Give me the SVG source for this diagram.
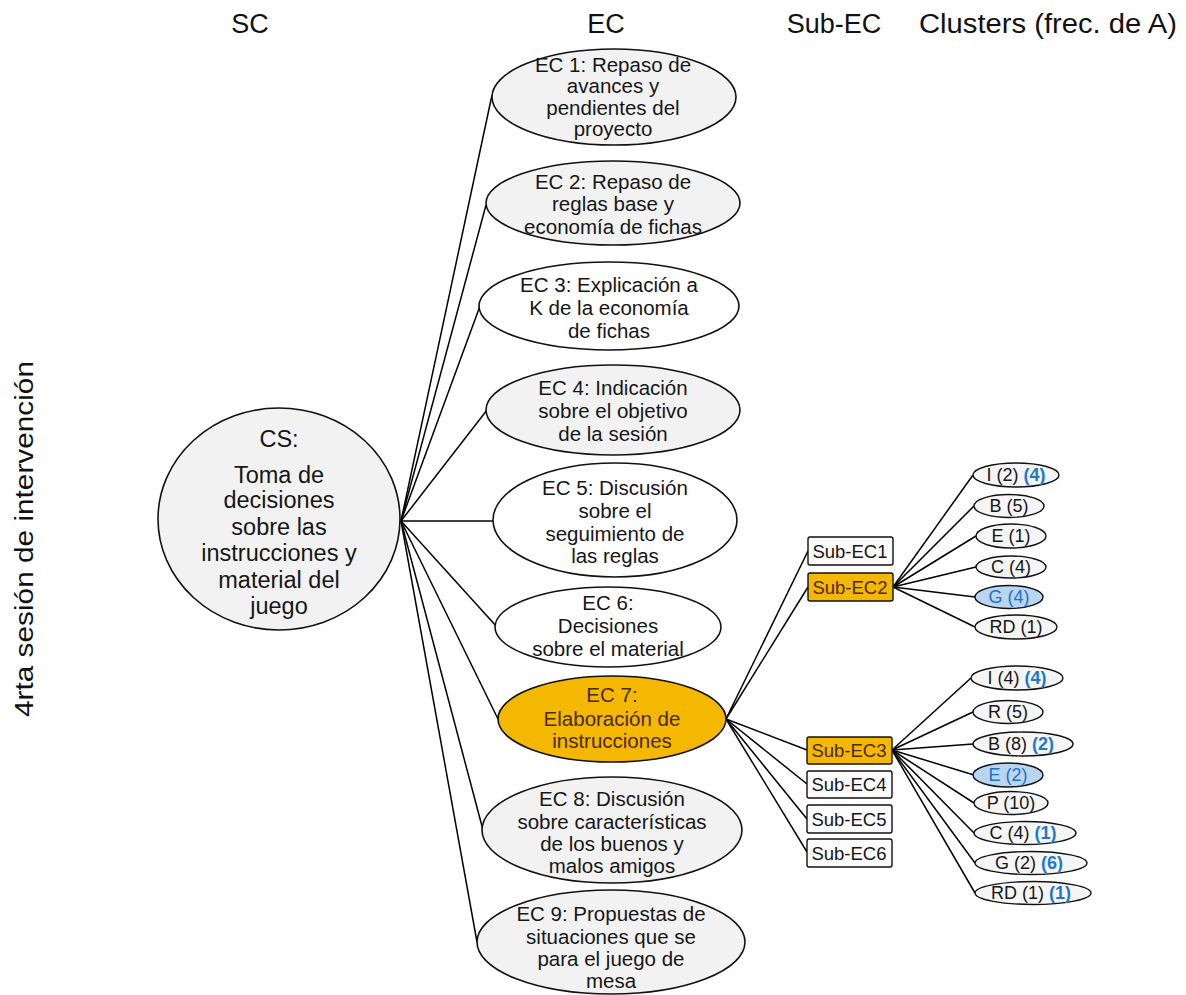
<svg xmlns="http://www.w3.org/2000/svg" width="1186" height="995" viewBox="0 0 1186 995">
  <style>
    text { font-family: "Liberation Sans", Arial, sans-serif; fill: #161616; text-anchor: middle; }
    .hdr { font-size: 27px; fill: #111; }
    .side { font-size: 26px; fill: #111; }
    .cs { font-size: 23.5px; }
    .ec { font-size: 20.5px; }
    .sub { font-size: 18.5px; }
    .cl { font-size: 18px; }
    .blue { fill: #1f78c8; font-weight: bold; }
    .hot { fill: #4a2a00; }
    .shape { stroke: #111; stroke-width: 1.6; }
    .leaf { fill: #f5f5f5; stroke: #111; stroke-width: 1.4; }
    .box { fill: #fbfbfb; stroke: #111; stroke-width: 1.4; }
    .grey { fill: #f2f2f2; }
    .white { fill: #ffffff; }
    .gold { fill: #f4b800; }
    .sky { fill: #b9d5ef; }
    .bluetxt { fill: #1f72c4; }
    #connectors line { stroke: #000; stroke-width: 1.5; }
  </style>

  <!-- column headings -->
  <g id="headings">
    <text class="hdr" x="250" y="33">SC</text>
    <text class="hdr" x="606" y="33">EC</text>
    <text class="hdr" x="834" y="33">Sub-EC</text>
    <text class="hdr" x="1048" y="33" textLength="258" lengthAdjust="spacingAndGlyphs">Clusters (frec. de A)</text>
    <text class="side" transform="translate(33,539) rotate(-90)" x="0" y="0" textLength="356" lengthAdjust="spacingAndGlyphs">4rta sesión de intervención</text>
  </g>

  <!-- connectors -->
  <g id="connectors">
    <!-- CS to EC -->
    <line x1="401" y1="521" x2="492" y2="95"/>
    <line x1="401" y1="521" x2="486" y2="205"/>
    <line x1="401" y1="521" x2="480" y2="306"/>
    <line x1="401" y1="521" x2="487" y2="410"/>
    <line x1="401" y1="521" x2="493" y2="521"/>
    <line x1="401" y1="521" x2="497" y2="627"/>
    <line x1="401" y1="521" x2="498" y2="719"/>
    <line x1="401" y1="521" x2="483" y2="830"/>
    <line x1="401" y1="521" x2="477" y2="942"/>
    <!-- EC 7 to Sub-EC -->
    <line x1="726" y1="719" x2="808" y2="551"/>
    <line x1="726" y1="719" x2="808" y2="587"/>
    <line x1="726" y1="719" x2="807" y2="750"/>
    <line x1="726" y1="719" x2="807" y2="784"/>
    <line x1="726" y1="719" x2="807" y2="819"/>
    <line x1="726" y1="719" x2="807" y2="852"/>
    <!-- Sub-EC2 to clusters -->
    <line x1="893" y1="587" x2="973" y2="475"/>
    <line x1="893" y1="587" x2="974" y2="506"/>
    <line x1="893" y1="587" x2="976" y2="536"/>
    <line x1="893" y1="587" x2="976" y2="567"/>
    <line x1="893" y1="587" x2="975" y2="597"/>
    <line x1="893" y1="587" x2="975" y2="627"/>
    <!-- Sub-EC3 to clusters -->
    <line x1="892" y1="750" x2="971" y2="678"/>
    <line x1="892" y1="750" x2="973" y2="712"/>
    <line x1="892" y1="750" x2="973" y2="744"/>
    <line x1="892" y1="750" x2="974" y2="775"/>
    <line x1="892" y1="750" x2="974" y2="803"/>
    <line x1="892" y1="750" x2="974" y2="833"/>
    <line x1="892" y1="750" x2="975" y2="863"/>
    <line x1="892" y1="750" x2="975" y2="893"/>
  </g>

  <!-- root -->
  <g id="cs">
    <ellipse class="shape grey" cx="279" cy="519" rx="121" ry="111"/>
    <text class="cs" x="279" y="447">CS:</text>
    <text class="cs" x="279" y="483">Toma de</text>
    <text class="cs" x="279" y="508">decisiones</text>
    <text class="cs" x="279" y="535">sobre las</text>
    <text class="cs" x="279" y="561">instrucciones y</text>
    <text class="cs" x="279" y="588">material del</text>
    <text class="cs" x="279" y="614">juego</text>
  </g>

  <!-- episodes -->
  <g id="ec1">
    <ellipse class="shape grey" cx="614" cy="97" rx="122" ry="48"/>
    <text class="ec" x="613" y="72">EC 1: Repaso de</text>
    <text class="ec" x="613" y="93">avances y</text>
    <text class="ec" x="613" y="115">pendientes del</text>
    <text class="ec" x="613" y="136">proyecto</text>
  </g>
  <g id="ec2">
    <ellipse class="shape grey" cx="613" cy="203" rx="127" ry="42"/>
    <text class="ec" x="613" y="189">EC 2: Repaso de</text>
    <text class="ec" x="613" y="211">reglas base y</text>
    <text class="ec" x="613" y="234">economía de fichas</text>
  </g>
  <g id="ec3">
    <ellipse class="shape white" cx="609" cy="306" rx="130" ry="44"/>
    <text class="ec" x="609" y="292">EC 3: Explicación a</text>
    <text class="ec" x="609" y="315">K de la economía</text>
    <text class="ec" x="609" y="338">de fichas</text>
  </g>
  <g id="ec4">
    <ellipse class="shape grey" cx="613" cy="410" rx="127" ry="45"/>
    <text class="ec" x="613" y="395">EC 4: Indicación</text>
    <text class="ec" x="613" y="418">sobre el objetivo</text>
    <text class="ec" x="613" y="441">de la sesión</text>
  </g>
  <g id="ec5">
    <ellipse class="shape white" cx="615" cy="520" rx="122" ry="57"/>
    <text class="ec" x="615" y="495">EC 5: Discusión</text>
    <text class="ec" x="615" y="518">sobre el</text>
    <text class="ec" x="615" y="541">seguimiento de</text>
    <text class="ec" x="615" y="563">las reglas</text>
  </g>
  <g id="ec6">
    <ellipse class="shape white" cx="608" cy="627" rx="113" ry="40"/>
    <text class="ec" x="608" y="610">EC 6:</text>
    <text class="ec" x="608" y="633">Decisiones</text>
    <text class="ec" x="608" y="656">sobre el material</text>
  </g>
  <g id="ec7">
    <ellipse class="shape gold" cx="612" cy="719" rx="114" ry="43"/>
    <text class="ec hot" x="612" y="702">EC 7:</text>
    <text class="ec hot" x="612" y="726">Elaboración de</text>
    <text class="ec hot" x="612" y="748">instrucciones</text>
  </g>
  <g id="ec8">
    <ellipse class="shape grey" cx="612" cy="830" rx="130" ry="53"/>
    <text class="ec" x="612" y="806">EC 8: Discusión</text>
    <text class="ec" x="612" y="829">sobre características</text>
    <text class="ec" x="612" y="851">de los buenos y</text>
    <text class="ec" x="612" y="873">malos amigos</text>
  </g>
  <g id="ec9">
    <ellipse class="shape grey" cx="611" cy="942" rx="134" ry="52"/>
    <text class="ec" x="611" y="921">EC 9: Propuestas de</text>
    <text class="ec" x="611" y="944">situaciones que se</text>
    <text class="ec" x="611" y="966">para el juego de</text>
    <text class="ec" x="611" y="988">mesa</text>
  </g>

  <!-- sub-episodes -->
  <g id="subec1">
    <rect class="box" x="808" y="537" width="85" height="28" rx="2"/>
    <text class="sub" x="850" y="558">Sub-EC1</text>
  </g>
  <g id="subec2">
    <rect class="box gold" x="808" y="573" width="85" height="28" rx="2"/>
    <text class="sub hot" x="850" y="594">Sub-EC2</text>
  </g>
  <g id="subec3">
    <rect class="box gold" x="807" y="737" width="85" height="27" rx="2"/>
    <text class="sub hot" x="849" y="757">Sub-EC3</text>
  </g>
  <g id="subec4">
    <rect class="box" x="807" y="771" width="85" height="27" rx="2"/>
    <text class="sub" x="849" y="791">Sub-EC4</text>
  </g>
  <g id="subec5">
    <rect class="box" x="807" y="805" width="85" height="28" rx="2"/>
    <text class="sub" x="849" y="826">Sub-EC5</text>
  </g>
  <g id="subec6">
    <rect class="box" x="807" y="839" width="85" height="28" rx="2"/>
    <text class="sub" x="849" y="860">Sub-EC6</text>
  </g>

  <!-- clusters of Sub-EC2 -->
  <g id="c2-i">
    <ellipse class="leaf" cx="1016" cy="475" rx="43" ry="12"/>
    <text class="cl" x="1016" y="481">I (2) <tspan class="blue">(4)</tspan></text>
  </g>
  <g id="c2-b">
    <ellipse class="leaf" cx="1009" cy="506" rx="35" ry="11.5"/>
    <text class="cl" x="1009" y="512">B (5)</text>
  </g>
  <g id="c2-e">
    <ellipse class="leaf" cx="1011" cy="536" rx="35" ry="12"/>
    <text class="cl" x="1011" y="542">E (1)</text>
  </g>
  <g id="c2-c">
    <ellipse class="leaf" cx="1011" cy="567" rx="35" ry="11"/>
    <text class="cl" x="1011" y="573">C (4)</text>
  </g>
  <g id="c2-g">
    <ellipse class="leaf sky" cx="1009" cy="597" rx="34" ry="11.5"/>
    <text class="cl bluetxt" x="1009" y="603">G (4)</text>
  </g>
  <g id="c2-rd">
    <ellipse class="leaf" cx="1016" cy="627" rx="41" ry="12"/>
    <text class="cl" x="1016" y="633">RD (1)</text>
  </g>

  <!-- clusters of Sub-EC3 -->
  <g id="c3-i">
    <ellipse class="leaf" cx="1017" cy="678" rx="46" ry="12"/>
    <text class="cl" x="1017" y="684">I (4) <tspan class="blue">(4)</tspan></text>
  </g>
  <g id="c3-r">
    <ellipse class="leaf" cx="1008" cy="712" rx="35" ry="11.5"/>
    <text class="cl" x="1008" y="718">R (5)</text>
  </g>
  <g id="c3-b">
    <ellipse class="leaf" cx="1023" cy="744" rx="50" ry="12"/>
    <text class="cl" x="1021" y="750">B (8) <tspan class="blue">(2)</tspan></text>
  </g>
  <g id="c3-e">
    <ellipse class="leaf sky" cx="1008" cy="775" rx="35" ry="12"/>
    <text class="cl bluetxt" x="1008" y="781">E (2)</text>
  </g>
  <g id="c3-p">
    <ellipse class="leaf" cx="1011" cy="803" rx="37" ry="11.5"/>
    <text class="cl" x="1011" y="809">P (10)</text>
  </g>
  <g id="c3-c">
    <ellipse class="leaf" cx="1025" cy="833" rx="51" ry="11.5"/>
    <text class="cl" x="1023" y="839">C (4) <tspan class="blue">(1)</tspan></text>
  </g>
  <g id="c3-g">
    <ellipse class="leaf" cx="1031" cy="863" rx="56" ry="11.5"/>
    <text class="cl" x="1029" y="869">G (2) <tspan class="blue">(6)</tspan></text>
  </g>
  <g id="c3-rd">
    <ellipse class="leaf" cx="1033" cy="893" rx="58" ry="11.5"/>
    <text class="cl" x="1031" y="899">RD (1) <tspan class="blue">(1)</tspan></text>
  </g>
</svg>
